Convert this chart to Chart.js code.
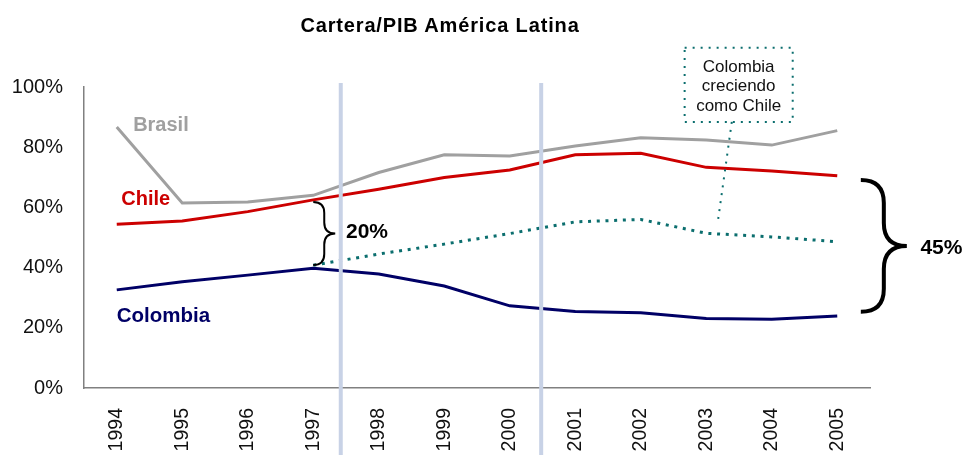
<!DOCTYPE html>
<html lang="es">
<head>
  <meta charset="UTF-8" />
  <title>Cartera/PIB América Latina</title>
  <script src="https://cdn.jsdelivr.net/npm/chart.js"></script>
  <style>
    body {
      margin: 0;
      background: #ffffff;
      font-family: "Liberation Sans", Arial, sans-serif;
    }
    .marco {
      position: relative;
      width: 966px;
      height: 455px;
    }
    .titulo {
      position: absolute;
      left: 0;
      top: 13px;
      width: 880px;
      text-align: center;
      font-size: 20px;
      font-weight: bold;
      letter-spacing: 0.85px;
      color: #000;
      line-height: 24px;
    }
    canvas {
      position: absolute;
      left: 0;
      top: 0;
    }
  </style>
</head>
<body>

<div class="marco">
  <canvas id="grafico" width="966" height="455"></canvas>
  <div class="titulo">Cartera/PIB América Latina</div>
</div>

<script>
// datos (% del PIB)
const anios = ['1994', '1995', '1996', '1997', '1998', '1999', '2000', '2001', '2002', '2003', '2004', '2005'];
const brasil = [86.7, 61.5, 61.8, 64.0, 71.6, 77.5, 77.1, 80.4, 83.1, 82.4, 80.7, 85.5];
const chile = [54.4, 55.5, 58.6, 62.5, 66.0, 69.9, 72.4, 77.5, 78.0, 73.3, 72.1, 70.5];
const colombia = [32.6, 35.3, 37.5, 39.8, 37.9, 33.9, 27.3, 25.4, 25.0, 23.1, 22.8, 23.9];
const colombiaComoChile = [null, null, null, 40.8, 44.5, 47.8, 51.3, 55.2, 56.0, 51.4, 50.2, 48.6];
const ticksY = [0, 20, 40, 60, 80, 100];

// posiciones de las marcas (en indice de categoria)
const cortes = [3.42, 6.48];

const FUENTE = '"Liberation Sans", Arial, sans-serif';
const GRIS = '#a0a0a0';
const ROJO = '#cc0000';
const AZUL = '#000066';
const VERDE = '#0b6e6e';

function llave(ctx, x, y0, y1, w) {
  const ym = (y0 + y1) / 2, xm = x + w / 2, r = w / 2;
  ctx.beginPath();
  ctx.moveTo(x, y0);
  ctx.quadraticCurveTo(xm, y0, xm, y0 + r);
  ctx.lineTo(xm, ym - r);
  ctx.quadraticCurveTo(xm, ym, x + w, ym);
  ctx.quadraticCurveTo(xm, ym, xm, ym + r);
  ctx.lineTo(xm, y1 - r);
  ctx.quadraticCurveTo(xm, y1, x, y1);
  ctx.stroke();
}

function texto(ctx, t, x, y, color, tam, peso, align) {
  ctx.font = `${peso} ${tam}px ${FUENTE}`;
  ctx.fillStyle = color;
  ctx.textAlign = align || 'left';
  ctx.textBaseline = 'middle';
  ctx.fillText(t, x, y);
}

const anotaciones = {
  id: 'anotaciones',
  afterDatasetsDraw(chart) {
    const ctx = chart.ctx;
    const xs = chart.scales.x, ys = chart.scales.y;
    const px = i => xs.getPixelForValue(i);
    const py = v => ys.getPixelForValue(v);
    ctx.save();

    // lineas verticales
    ctx.strokeStyle = '#c8d2e6';
    ctx.lineWidth = 4;
    cortes.forEach(c => {
      ctx.beginPath();
      ctx.moveTo(px(c), py(101.3));
      ctx.lineTo(px(c), chart.height);
      ctx.stroke();
    });

    // nombres de series
    texto(ctx, 'Brasil', px(0.25), py(87.2), GRIS, 20, 'bold');
    texto(ctx, 'Chile', px(0.07), py(62.5), ROJO, 20, 'bold');
    texto(ctx, 'Colombia', px(0), py(23.9), AZUL, 20.5, 'bold');

    // llaves
    ctx.strokeStyle = '#000';
    ctx.lineWidth = 2;
    llave(ctx, px(3.0), py(61.8), py(40.9), 22);
    texto(ctx, '20%', px(3.5), py(51.8), '#000', 21, 'bold');

    ctx.lineWidth = 4;
    llave(ctx, px(11.36), py(69.1), py(25.3), 46);
    texto(ctx, '45%', px(12.27), py(46.5), '#000', 21, 'bold');

    // recuadro punteado
    const bx0 = px(8.67), bx1 = px(10.32), by0 = py(113), by1 = py(88.4);
    ctx.strokeStyle = VERDE;
    ctx.lineWidth = 2;
    ctx.setLineDash([2, 6]);
    ctx.strokeRect(bx0, by0, bx1 - bx0, by1 - by0);
    ctx.beginPath();
    ctx.moveTo(px(9.39), by1);
    ctx.lineTo(px(9.17), py(54.2));
    ctx.stroke();
    ctx.setLineDash([]);
    const cx = (bx0 + bx1) / 2, cy = (by0 + by1) / 2 + 1.5;
    ['Colombia', 'creciendo', 'como Chile'].forEach((t, k) => {
      texto(ctx, t, cx, cy + (k - 1) * 19.5, '#111', 17, 'normal', 'center');
    });

    ctx.restore();
  }
};

new Chart(document.getElementById('grafico'), {
  type: 'line',
  data: {
    labels: anios,
    datasets: [
      { label: 'Brasil', data: brasil, borderColor: GRIS, borderWidth: 3 },
      { label: 'Chile', data: chile, borderColor: ROJO, borderWidth: 3 },
      { label: 'Colombia', data: colombia, borderColor: AZUL, borderWidth: 3 },
      { label: 'Colombia creciendo como Chile', data: colombiaComoChile, borderColor: VERDE,
        borderWidth: 3, borderDash: [3, 5.7] }
    ]
  },
  options: {
    responsive: false,
    animation: false,
    devicePixelRatio: 1,
    elements: {
      point: { radius: 0 },
      line: { tension: 0, fill: false }
    },
    layout: { padding: { top: 87, right: 96, left: 0, bottom: 0 } },
    plugins: {
      legend: { display: false },
      title: { display: false },
      tooltip: { enabled: false }
    },
    scales: {
      x: {
        offset: true,
        grid: { display: false, drawTicks: false, offset: true },
        border: { display: true, color: '#808080', width: 1.5 },
        ticks: {
          autoSkip: false,
          minRotation: 90,
          maxRotation: 90,
          padding: 20,
          color: '#111',
          font: { family: FUENTE, size: 19.5 }
        },
        afterFit(scale) { scale.height = 67; }
      },
      y: {
        min: 0,
        max: 100,
        afterBuildTicks(scale) { scale.ticks = ticksY.map(v => ({ value: v })); },
        grid: { display: false, drawTicks: false },
        border: { display: true, color: '#808080', width: 1.5 },
        ticks: {
          padding: 21,
          color: '#111',
          font: { family: FUENTE, size: 20 },
          callback: v => v + '%'
        },
        afterFit(scale) { scale.width = 84; }
      }
    }
  },
  plugins: [anotaciones]
});
</script>
</body>
</html>
